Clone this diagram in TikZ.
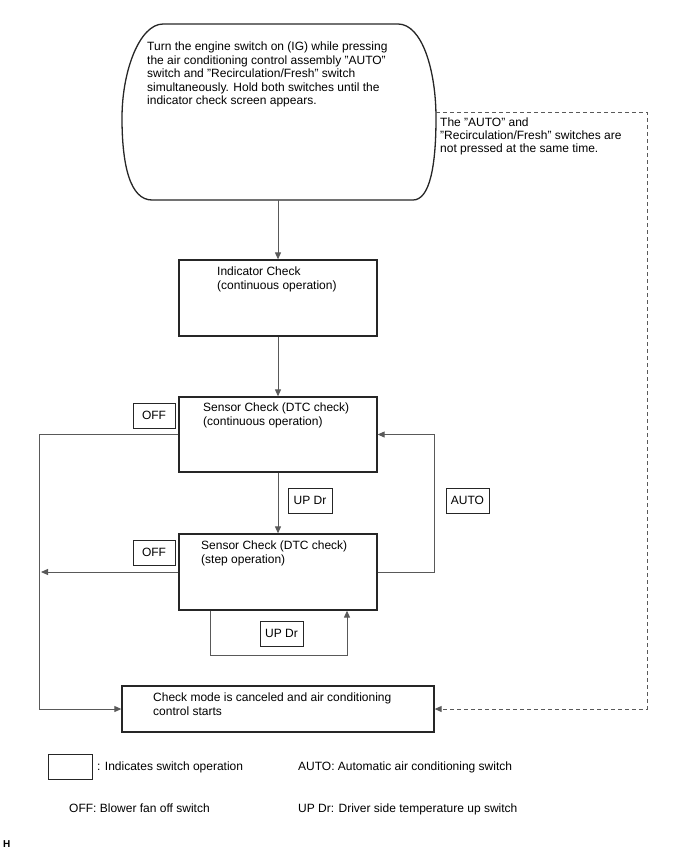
\documentclass[tikz,border=0pt]{standalone}
\usepackage{fontspec}
\setmainfont{Liberation Sans}
\usetikzlibrary{arrows.meta}
\begin{document}
\begin{tikzpicture}[x=1pt,y=-1pt,
  every node/.style={font=\fontsize{12}{13.7}\selectfont},
  box/.style={draw=black!85, line width=1.3pt, minimum width=198pt, inner sep=0pt},
  swbox/.style={draw=black!85, line width=1pt, inner sep=0pt, minimum width=43pt, minimum height=25pt},
  txt/.style={anchor=base west, align=left, inner sep=0pt},
  conn/.style={draw=black!65, line width=1pt, -{Triangle[length=7pt,width=6pt]}},
]
\useasboundingbox (0,0) rectangle (688,852);

% start shape
\node[minimum width=314pt, minimum height=176pt, inner sep=0pt] (start) at (279,112) {};
\draw[draw=black!85, line width=1.3pt] (163,24) -- (398,24)
  .. controls (422,24) and (436,70) .. (436,118)
  .. controls (436,165) and (430,200) .. (413,200) -- (152,200)
  .. controls (130,200) and (122,165) .. (122,118)
  .. controls (122,70) and (140,24) .. (163,24) -- cycle;
% base anchor of a multi-line node = baseline of its last line
\node[txt, font=\fontsize{12}{13.6}\selectfont] (startt) at (147,104.9) {Turn the engine switch on (IG) while pressing\\the air conditioning control assembly "AUTO"\\switch and "Recirculation/Fresh" switch\\simultaneously. Hold both switches until the\\indicator check screen appears.};

% boxes
\node[box, minimum height=76pt] (ind) at (278,298) {};
\node[txt] (indt) at (217,289.2) {Indicator Check\\(continuous operation)};
\node[box, minimum height=75pt] (s1) at (278,434.5) {};
\node[txt] (s1t) at (203,425.2) {Sensor Check (DTC check)\\(continuous operation)};
\node[box, minimum height=76pt] (s2) at (278,572) {};
\node[txt] (s2t) at (201,563.2) {Sensor Check (DTC check)\\(step operation)};
\node[box, minimum width=312pt, minimum height=46pt] (bot) at (278,709) {};
\node[txt] (bott) at (153,715.2) {Check mode is canceled and air conditioning\\control starts};

% switch boxes
\node[swbox, minimum width=42pt] (off1) at (154,415.5) {OFF};
\node[swbox, minimum width=42pt] (off2) at (154,552.5) {OFF};
\node[swbox, minimum width=44pt] (up1) at (310,500.5) {UP Dr};
\node[swbox] (auto) at (467.5,500.5) {AUTO};
\node[swbox] (up2) at (281.5,633.5) {UP Dr};

% helper coordinates
\coordinate (lx) at (39,0);
\coordinate (ax) at (434,0);
\coordinate (dx) at (647,0);

% connectors
\draw[conn] (ind.north |- start.south) -- (ind.north);
\draw[conn] (ind) -- (s1);
\draw[conn] (s1) -- (s2);
\draw[conn] (s1.west) -| (lx |- bot.west) -- (bot.west);
\draw[conn, shorten >=2pt] (s2.west) -- (lx |- s2.west);
\draw[conn] (s2.east) -| (ax |- s1.east) -- (s1.east);
\draw[conn] ([xshift=-68pt]s2.south) -- ++(0,45) -| ([xshift=69pt]s2.south);
\draw[conn, dash pattern=on 4pt off 3pt] (start.east) -| (dx |- bot.east) -- (bot.east);
\node[txt, font=\fontsize{12}{13.3}\selectfont] (dasht) at (440,152.6) {The "AUTO" and\\"Recirculation/Fresh" switches are\\not pressed at the same time.};

% legend
\node[swbox, minimum width=44pt] (leg) at (70,766.5) {};
\node[txt] (legt) at (97,770.5) {: Indicates switch operation};
\node[txt] (lega) at (298,770) {AUTO: Automatic air conditioning switch};
\node[txt] (lego) at (69,812.5) {OFF: Blower fan off switch};
\node[txt] (legu) at (298,812.5) {UP Dr: Driver side temperature up switch};
\node[txt, font=\fontsize{10}{11}\selectfont\bfseries] (h) at (3,847.5) {H};
\end{tikzpicture}
\end{document}
